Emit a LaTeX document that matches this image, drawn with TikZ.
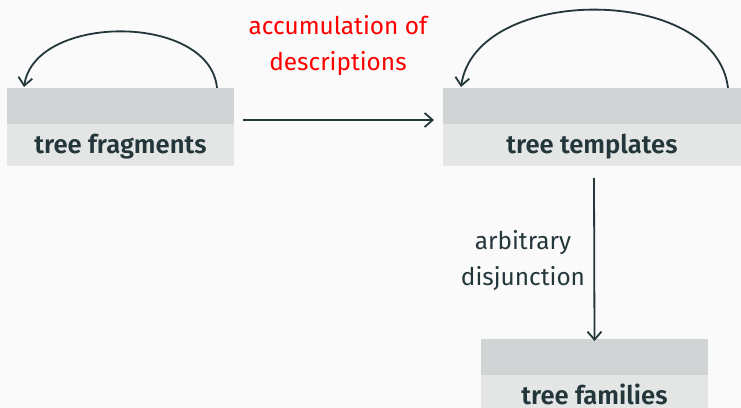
\documentclass[tikz,border=0pt]{standalone}
\usepackage{fontspec}
\setmainfont{Fira Sans}[BoldFont={Fira Sans SemiBold}]
\usetikzlibrary{arrows.meta}
\definecolor{bg}{HTML}{FAFAFA}
\definecolor{ink}{HTML}{23373B}
\definecolor{bandtop}{HTML}{D1D4D4}
\definecolor{bandlow}{HTML}{E4E6E6}
\definecolor{accent}{HTML}{FF0000}
\begin{document}
\begin{tikzpicture}[x=0.5pt,y=-0.5pt,
  band/.style={fill=bandtop, draw=none, minimum height=18pt, inner sep=0pt, outer sep=0pt, anchor=north west},
  lbl/.style={fill=bandlow, draw=none, minimum height=21pt, inner sep=0pt, outer sep=0pt, anchor=north west,
    text height=11.6pt, text depth=2.8pt,
    font=\fontsize{12.8}{14}\selectfont\bfseries, text=ink},
  flow/.style={draw=ink, line width=0.9pt, -{Straight Barb[length=4pt,width=7pt]}},
  note/.style={align=center, font=\fontsize{12.2}{18}\selectfont}]
\useasboundingbox (0,0) rectangle (741,408);
\fill[bg] (0,0) rectangle (741,408);
\clip (0,0) rectangle (741,408);

% tree fragments
\node[band, minimum width=113.5pt] (fragtop) at (7,88) {};
\node[lbl, minimum width=113.5pt] (frag) at (7,124) {tree fragments};
% tree templates
\node[band, minimum width=149pt] (temptop) at (443,88) {};
\node[lbl, minimum width=149pt] (temp) at (443,124) {tree templates};
% tree families
\node[band, minimum width=113.5pt] (famtop) at (481,339) {};
\node[lbl, minimum width=113.5pt] (fam) at (481,375) {tree families};

% self loops
\draw[flow] ([xshift=-8.5pt]fragtop.north east) .. controls (210,13) and (35,13) .. ([xshift=8.5pt,yshift=0.5pt]fragtop.north west);
\draw[flow] ([xshift=-6.5pt]temptop.north east) .. controls (716,-16) and (476,-16) .. ([xshift=9pt,yshift=0.5pt]temptop.north west);

% accumulation
\draw[flow] ([xshift=4.5pt,yshift=2pt]frag.north east) -- ([xshift=-4.5pt,yshift=2pt]temptop.south west);
\node[note, text=accent] (acc) at (338,46) {accumulation of\\descriptions};

% disjunction
\draw[flow] ([xshift=1pt,yshift=-6pt]temp.south) -- ([yshift=-1pt]famtop.north);
\node[note, text=ink] (disj) at (523,261) {arbitrary\\disjunction};
\end{tikzpicture}
\end{document}
